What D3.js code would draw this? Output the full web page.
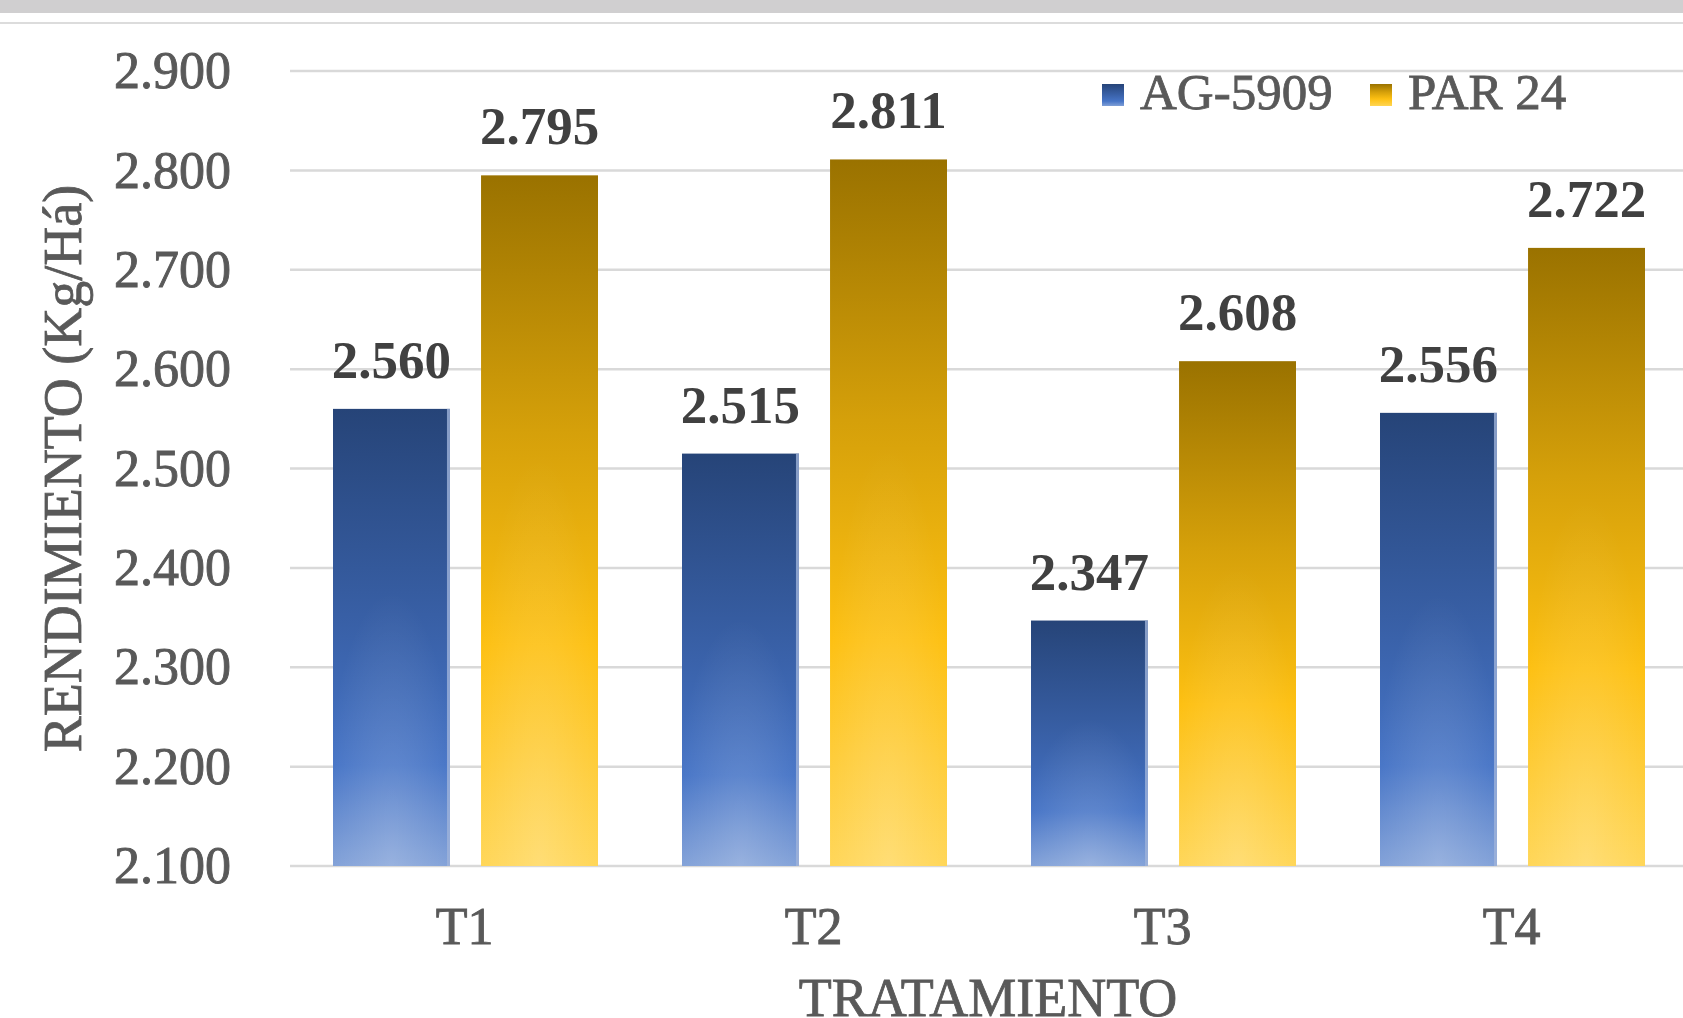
<!DOCTYPE html>
<html>
<head>
<meta charset="utf-8">
<script src="https://cdn.jsdelivr.net/npm/d3@7"></script>
<style>
  body { margin: 0; background: #fff; }
  svg { display: block; font-family: "Liberation Serif", "Times New Roman", serif; }
</style>
</head>
<body>
<svg id="chart"></svg>
<script>
const categories = ['T1', 'T2', 'T3', 'T4'];
const series = ['AG-5909', 'PAR 24'];
const ag5909 = [2.560, 2.515, 2.347, 2.556];
const par24 = [2.795, 2.811, 2.608, 2.722];
const yticks = [2.1, 2.2, 2.3, 2.4, 2.5, 2.6, 2.7, 2.8, 2.9];

class GroupedBars {

    constructor( config, data ) {
        this.config = {
            parent: config.parent,
            width: config.width || 1683,
            height: config.height || 1018,
            margin: config.margin || {top:71, right:-3, bottom:152, left:290},
            xlabel: config.xlabel || '',
            ylabel: config.ylabel || ''
        }
        this.data = data;
        this.init();
    }

    init() {
        let self = this;

        self.svg = d3.select(self.config.parent)
            .attr('width', self.config.width)
            .attr('height', self.config.height);

        // frame strips at the top
        self.svg.append('rect')
            .attr('x', 0).attr('y', 0)
            .attr('width', self.config.width).attr('height', 13)
            .attr('fill', '#d0cfd0');
        self.svg.append('line')
            .attr('x1', 0).attr('x2', self.config.width)
            .attr('y1', 23).attr('y2', 23)
            .attr('stroke', '#dcdcdc').attr('stroke-width', 2);

        const defs = self.svg.append('defs');
        const blue = defs.append('linearGradient').attr('id', 'g-blue')
            .attr('x1', 0).attr('y1', 0).attr('x2', 0).attr('y2', 1);
        [[0, '#264478'], [0.5, '#3a62aa'], [0.78, '#4674c6'], [1, '#7f9fd7']]
            .forEach(s => blue.append('stop').attr('offset', s[0]).attr('stop-color', s[1]));
        const gold = defs.append('linearGradient').attr('id', 'g-gold')
            .attr('x1', 0).attr('y1', 0).attr('x2', 0).attr('y2', 1);
        [[0, '#9a7200'], [0.37, '#d5a00a'], [0.68, '#fdc012'], [1, '#ffd553']]
            .forEach(s => gold.append('stop').attr('offset', s[0]).attr('stop-color', s[1]));
        const glow = defs.append('radialGradient').attr('id', 'g-glow')
            .attr('cx', 0.5).attr('cy', 1).attr('r', 0.6);
        glow.append('stop').attr('offset', 0).attr('stop-color', '#ffffff').attr('stop-opacity', 0.2);
        glow.append('stop').attr('offset', 1).attr('stop-color', '#ffffff').attr('stop-opacity', 0);

        self.chart = self.svg.append('g')
            .attr('transform', `translate(${self.config.margin.left}, ${self.config.margin.top})`);

        self.inner_width = self.config.width - self.config.margin.left - self.config.margin.right;
        self.inner_height = self.config.height - self.config.margin.top - self.config.margin.bottom;

        self.xscale = d3.scaleBand()
            .domain(categories)
            .range([0, self.inner_width]);

        self.sscale = d3.scaleBand()
            .domain(series)
            .range([43, 308])
            .paddingInner(0.21);

        self.yscale = d3.scaleLinear()
            .domain([2.1, 2.9])
            .range([self.inner_height, 0]);

        self.cscale = d3.scaleOrdinal()
            .domain(series)
            .range(['url(#g-blue)', 'url(#g-gold)']);

        self.grid_group = self.chart.append('g');
        self.xaxis_group = self.chart.append('g')
            .attr('transform', `translate(0, ${self.inner_height})`);
        self.yaxis_group = self.chart.append('g');
        self.bar_group = self.chart.append('g');
        self.label_group = self.chart.append('g');

        self.svg.append('text')
            .style('font-size', '54px')
            .attr('fill', '#595959')
            .attr('stroke', '#595959').attr('stroke-width', 0.8)
            .attr('x', self.config.margin.left + self.inner_width / 2)
            .attr('y', 1016)
            .attr('text-anchor', 'middle')
            .text(self.config.xlabel);

        self.svg.append('text')
            .style('font-size', '54px')
            .attr('fill', '#595959')
            .attr('stroke', '#595959').attr('stroke-width', 0.8)
            .attr('transform', `translate(62, ${self.config.margin.top + self.inner_height / 2}) rotate(-90)`)
            .attr('text-anchor', 'middle')
            .attr('dy', '0.35em')
            .text(self.config.ylabel);

        // legend
        const legend = self.svg.append('g');
        const lx = [1102, 1370];
        series.forEach((s, i) => {
            legend.append('rect')
                .attr('x', lx[i]).attr('y', 84)
                .attr('width', 22).attr('height', 22)
                .attr('fill', self.cscale(s));
            legend.append('text')
                .attr('x', lx[i] + 38).attr('y', 109)
                .style('font-size', '51px')
                .attr('fill', '#595959')
                .attr('stroke', '#595959').attr('stroke-width', 0.8)
                .text(s);
        });
    }

    update() {
        let self = this;
        self.flat = [];
        self.data.forEach(d => {
            series.forEach((s, i) => {
                self.flat.push({cat: d.cat, series: s, value: d.values[i]});
            });
        });
        self.render();
    }

    render() {
        let self = this;

        self.grid_group.selectAll('line')
            .data(yticks)
            .join('line')
            .attr('x1', 0).attr('x2', self.inner_width)
            .attr('y1', d => self.yscale(d)).attr('y2', d => self.yscale(d))
            .attr('stroke', '#d9d9d9')
            .attr('stroke-width', 2.5);

        const bx = d => self.xscale(d.cat) + self.sscale(d.series);

        self.bar_group.selectAll('rect.bar')
            .data(self.flat)
            .join('rect')
            .attr('class', 'bar')
            .attr('x', bx)
            .attr('y', d => self.yscale(d.value))
            .attr('width', self.sscale.bandwidth())
            .attr('height', d => self.inner_height - self.yscale(d.value))
            .attr('fill', d => self.cscale(d.series));

        self.bar_group.selectAll('rect.glow')
            .data(self.flat)
            .join('rect')
            .attr('class', 'glow')
            .attr('x', bx)
            .attr('y', d => self.yscale(d.value))
            .attr('width', self.sscale.bandwidth())
            .attr('height', d => self.inner_height - self.yscale(d.value))
            .attr('fill', 'url(#g-glow)');

        // thin light edge on the right of the blue bars
        self.bar_group.selectAll('rect.edge')
            .data(self.flat.filter(d => d.series === series[0]))
            .join('rect')
            .attr('class', 'edge')
            .attr('x', d => bx(d) + self.sscale.bandwidth() - 3)
            .attr('y', d => self.yscale(d.value))
            .attr('width', 3)
            .attr('height', d => self.inner_height - self.yscale(d.value))
            .attr('fill', '#9fb3da')
            .attr('opacity', 0.8);

        self.label_group.selectAll('text')
            .data(self.flat)
            .join('text')
            .attr('x', d => bx(d) + self.sscale.bandwidth() / 2)
            .attr('y', d => self.yscale(d.value) - 31)
            .attr('text-anchor', 'middle')
            .style('font-size', '53px')
            .style('font-weight', 'bold')
            .attr('fill', '#404040')
            .text(d => d3.format('.3f')(d.value));

        self.xaxis = d3.axisBottom(self.xscale).tickSize(0).tickPadding(41);
        self.yaxis = d3.axisLeft(self.yscale).tickValues(yticks).tickSize(0).tickPadding(59)
            .tickFormat(d3.format('.3f'));

        self.xaxis_group.call(self.xaxis);
        self.yaxis_group.call(self.yaxis);

        [self.xaxis_group, self.yaxis_group].forEach(g => {
            g.select('.domain').remove();
            g.selectAll('text')
                .style('font-size', '52px')
                .attr('fill', '#595959')
                .attr('stroke', '#595959')
                .attr('stroke-width', 0.9)
                .attr('font-family', '"Liberation Serif", "Times New Roman", serif');
        });
        self.xaxis_group.selectAll('text').attr('dy', '0.71em');
    }
}

const data = categories.map((c, i) => ({cat: c, values: [ag5909[i], par24[i]]}));

const chart = new GroupedBars({
    parent: '#chart',
    width: 1683,
    height: 1018,
    xlabel: 'TRATAMIENTO',
    ylabel: 'RENDIMIENTO (Kg/Há)'
}, data);
chart.update();
</script>
</body>
</html>
